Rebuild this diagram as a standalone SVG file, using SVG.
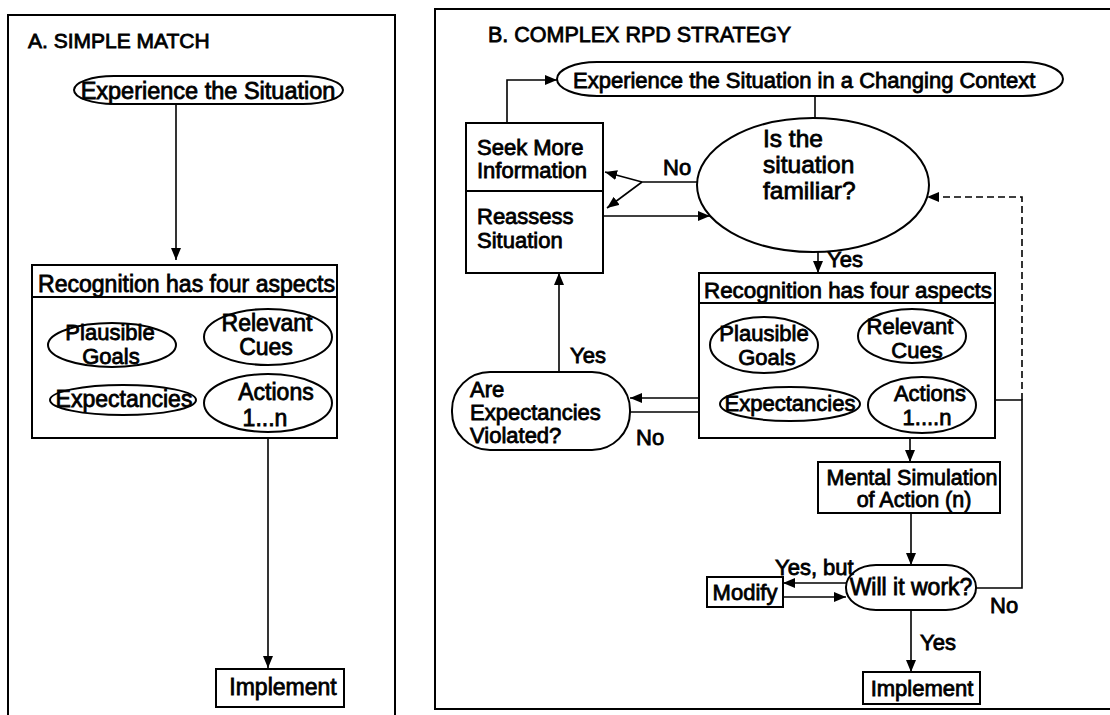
<svg xmlns="http://www.w3.org/2000/svg" width="1110" height="715" viewBox="0 0 1110 715">
<style>
.ln{stroke:#000;stroke-width:1.6;fill:none}
.dl{stroke:#000;stroke-width:1.6;fill:none;stroke-dasharray:7 4}
.bx{fill:#fff;stroke:#000;stroke-width:2}
.fr{fill:none;stroke:#000;stroke-width:2}
.t{font-family:"Liberation Sans",Arial,sans-serif;font-size:22px;fill:#000;stroke:#000;stroke-width:0.8}
.m{text-anchor:middle}
</style>
<defs>
<marker id="ah" viewBox="0 0 12 10" refX="12" refY="5" markerWidth="12" markerHeight="10" markerUnits="userSpaceOnUse" orient="auto"><path d="M0,0 L12,5 L0,10 z" fill="#000"/></marker>
</defs>
<rect width="1110" height="715" fill="#fff"/>
<g id="panelA">
<path class="fr" d="M8,716 V15 H395 V716"/>
<text class="t" x="28" y="48" style="font-size:21px">A. SIMPLE MATCH</text>
</g>
<g id="panelB">
<path class="fr" d="M1112,9 H435 V709 H1112"/>
<text class="t" x="488" y="42" style="font-size:21.5px">B. COMPLEX RPD STRATEGY</text>
</g>
<g id="connectors">
<path class="ln" d="M176,104 V260" marker-end="url(#ah)"/>
<path class="ln" d="M268,438 V668" marker-end="url(#ah)"/>
<path class="ln" d="M507,123 V80 H557" marker-end="url(#ah)"/>
<path class="ln" d="M815,96 V118"/>
<path class="ln" d="M697,182 H642"/>
<path class="ln" d="M642,182 L605,172" marker-end="url(#ah)"/>
<path class="ln" d="M642,182 L607,208" marker-end="url(#ah)"/>
<path class="ln" d="M603,216 H710" marker-end="url(#ah)"/>
<path class="ln" d="M818,252 V273" marker-end="url(#ah)"/>
<path class="ln" d="M559,372 V273" marker-end="url(#ah)"/>
<path class="ln" d="M720,398 H630" marker-end="url(#ah)"/>
<path class="ln" d="M630,412 H720" marker-end="url(#ah)"/>
<path class="ln" d="M910,438 V462" marker-end="url(#ah)"/>
<path class="ln" d="M911,513 V565" marker-end="url(#ah)"/>
<path class="ln" d="M846,583 H783" marker-end="url(#ah)"/>
<path class="ln" d="M783,597 H846" marker-end="url(#ah)"/>
<path class="ln" d="M976,588 H1022 V400 H976" marker-end="url(#ah)"/>
<path class="dl" d="M1022,400 V197 H927" marker-end="url(#ah)"/>
<path class="ln" d="M911,610 V672" marker-end="url(#ah)"/>
</g>
<g id="a-experience">
<rect class="bx" x="74" y="76" width="269" height="28" rx="40" ry="14"/>
<text class="t m" x="208" y="99" style="font-size:23.5px">Experience the Situation</text>
</g>
<g id="a-recognition">
<rect class="bx" x="32" y="265" width="305" height="173"/>
<line class="fr" x1="32" y1="297" x2="337" y2="297"/>
<text class="t" x="38" y="292" style="font-size:23px" textLength="297" lengthAdjust="spacingAndGlyphs">Recognition has four aspects</text>
</g>
<g id="a-goals">
<ellipse class="bx" cx="112" cy="345" rx="64" ry="22"/>
<text class="t m" x="110" y="340" style="font-size:22px">Plausible</text>
<text class="t m" x="111" y="364" style="font-size:22px">Goals</text>
</g>
<g id="a-cues">
<ellipse class="bx" cx="268" cy="337" rx="64" ry="28"/>
<text class="t m" x="267" y="331" style="font-size:23px">Relevant</text>
<text class="t m" x="266" y="355" style="font-size:23px">Cues</text>
</g>
<g id="a-expectancies">
<ellipse class="bx" cx="123" cy="400" rx="73" ry="15"/>
<text class="t m" x="124" y="407" style="font-size:23px">Expectancies</text>
</g>
<g id="a-actions">
<ellipse class="bx" cx="268" cy="403" rx="64" ry="29"/>
<text class="t m" x="276" y="400" style="font-size:23px">Actions</text>
<text class="t m" x="265" y="426" style="font-size:23px">1...n</text>
</g>
<g id="a-implement">
<rect class="bx" x="216" y="669" width="128" height="38"/>
<text class="t m" x="283" y="695" style="font-size:23px">Implement</text>
</g>
<g id="b-experience">
<rect class="bx" x="557" y="62" width="506" height="34" rx="40" ry="17"/>
<text class="t" x="573" y="88">Experience the Situation in a Changing Context</text>
</g>
<g id="b-seek">
<rect class="bx" x="466" y="123" width="137" height="150"/>
<line class="fr" x1="466" y1="191" x2="603" y2="191"/>
<text class="t" x="477" y="155">Seek More</text>
<text class="t" x="477" y="178">Information</text>
<text class="t" x="477" y="224">Reassess</text>
<text class="t" x="477" y="248">Situation</text>
</g>
<g id="b-familiar">
<ellipse class="bx" cx="813" cy="185" rx="116" ry="67"/>
<text class="t" x="763" y="147" style="font-size:24.5px">Is the</text>
<text class="t" x="763" y="173" style="font-size:24.5px">situation</text>
<text class="t" x="763" y="199" style="font-size:24.5px">familiar?</text>
</g>
<g id="b-recognition">
<rect class="bx" x="699" y="273" width="296" height="165"/>
<line class="fr" x1="699" y1="303" x2="995" y2="303"/>
<text class="t" x="704" y="298" textLength="288" lengthAdjust="spacingAndGlyphs">Recognition has four aspects</text>
</g>
<g id="b-goals">
<ellipse class="bx" cx="764" cy="345" rx="54" ry="28"/>
<text class="t m" x="764" y="341">Plausible</text>
<text class="t m" x="767" y="365">Goals</text>
</g>
<g id="b-cues">
<ellipse class="bx" cx="912" cy="336" rx="54" ry="27"/>
<text class="t m" x="910" y="334">Relevant</text>
<text class="t m" x="917" y="358">Cues</text>
</g>
<g id="b-expectancies">
<ellipse class="bx" cx="790" cy="404" rx="70" ry="17"/>
<text class="t m" x="790" y="411">Expectancies</text>
</g>
<g id="b-actions">
<ellipse class="bx" cx="922" cy="405" rx="54" ry="28"/>
<text class="t m" x="930" y="401">Actions</text>
<text class="t m" x="927" y="425">1....n</text>
</g>
<g id="b-violated">
<rect class="bx" x="452" y="372" width="178" height="78" rx="38" ry="38"/>
<text class="t" x="470" y="397">Are</text>
<text class="t" x="470" y="420">Expectancies</text>
<text class="t" x="470" y="443">Violated?</text>
</g>
<g id="b-mental">
<rect class="bx" x="818" y="462" width="182" height="51"/>
<text class="t m" x="912" y="485" style="font-size:21.5px">Mental Simulation</text>
<text class="t m" x="914" y="507" style="font-size:21.5px">of Action (n)</text>
</g>
<g id="b-work">
<rect class="bx" x="846" y="565" width="130" height="45" rx="30" ry="22"/>
<text class="t m" x="911" y="595" style="font-size:23px">Will it work?</text>
</g>
<g id="b-modify">
<rect class="bx" x="707" y="577" width="76" height="30"/>
<text class="t m" x="745" y="600">Modify</text>
</g>
<g id="b-implement">
<rect class="bx" x="863" y="672" width="117" height="32"/>
<text class="t m" x="922" y="696">Implement</text>
</g>
<g id="labels">
<text class="t" x="663" y="175">No</text>
<text class="t" x="827" y="267">Yes</text>
<text class="t" x="570" y="363">Yes</text>
<text class="t" x="636" y="445">No</text>
<text class="t" x="775" y="575">Yes, but</text>
<text class="t" x="990" y="613">No</text>
<text class="t" x="920" y="650">Yes</text>
</g>
</svg>
